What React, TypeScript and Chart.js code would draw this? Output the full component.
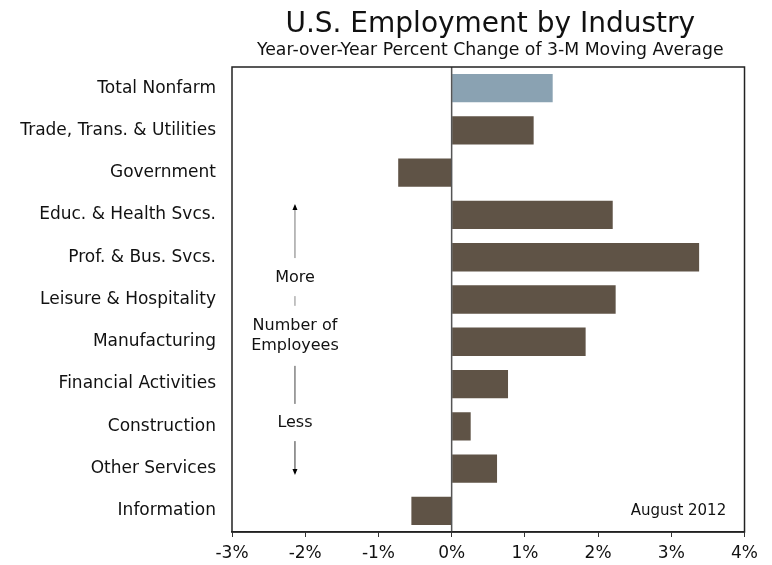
import React, { useEffect, useRef } from "react";
import { Chart, registerables } from "chart.js";

Chart.register(...registerables);

const categories = [
  "Total Nonfarm",
  "Trade, Trans. & Utilities",
  "Government",
  "Educ. & Health Svcs.",
  "Prof. & Bus. Svcs.",
  "Leisure & Hospitality",
  "Manufacturing",
  "Financial Activities",
  "Construction",
  "Other Services",
  "Information",
];
const values = [1.38, 1.12, -0.73, 2.2, 3.38, 2.24, 1.83, 0.77, 0.26, 0.62, -0.55];
const highlightColor = "#8aa2b2";
const barColor = "#5f5346";
const xMin = -3;
const xMax = 4;
const titleText = "U.S. Employment by Industry";
const subtitleText = "Year-over-Year Percent Change of 3-M Moving Average";
const dateText = "August 2012";

const FONT = "'DejaVu Sans', Verdana, sans-serif";

const decorPlugin = {
  id: "decor",
  afterDatasetsDraw(chart: any) {
    const { ctx, chartArea: ca, scales } = chart;
    const x = scales.x;
    const y = scales.y;
    ctx.save();
    // zero line
    const x0 = x.getPixelForValue(0);
    ctx.strokeStyle = "#555";
    ctx.lineWidth = 1.5;
    ctx.beginPath();
    ctx.moveTo(x0, ca.top);
    ctx.lineTo(x0, ca.bottom);
    ctx.stroke();
    // box
    ctx.strokeStyle = "#222";
    ctx.lineWidth = 1.5;
    ctx.strokeRect(ca.left, ca.top, ca.right - ca.left, ca.bottom - ca.top);

    // title
    const cx = (ca.left + ca.right) / 2 + 2;
    ctx.fillStyle = "#111";
    ctx.textAlign = "center";
    ctx.textBaseline = "alphabetic";
    ctx.font = `28px ${FONT}`;
    ctx.fillText(titleText, cx, 24);
    ctx.font = `17.3px ${FONT}`;
    ctx.fillText(subtitleText, cx, 46.5);

    // side note
    const ax = x.getPixelForValue(-2.14);
    ctx.font = `16px ${FONT}`;
    ctx.textBaseline = "middle";
    ctx.fillText("More", ax, y.getPixelForValue(4.49));
    ctx.fillText("Number of", ax, y.getPixelForValue(5.63));
    ctx.fillText("Employees", ax, y.getPixelForValue(6.1));
    ctx.fillText("Less", ax, y.getPixelForValue(7.92));

    const seg = (a: number, b: number, color: string) => {
      ctx.strokeStyle = color;
      ctx.lineWidth = 1;
      ctx.beginPath();
      ctx.moveTo(ax, y.getPixelForValue(a));
      ctx.lineTo(ax, y.getPixelForValue(b));
      ctx.stroke();
    };
    seg(2.78, 4.02, "#777");
    seg(4.92, 5.15, "#888");
    seg(6.57, 7.47, "#444");
    seg(8.35, 9.1, "#333");
    // arrow heads
    ctx.fillStyle = "#000";
    const upY = y.getPixelForValue(2.74);
    ctx.beginPath();
    ctx.moveTo(ax, upY);
    ctx.lineTo(ax - 2.5, upY + 6);
    ctx.lineTo(ax + 2.5, upY + 6);
    ctx.closePath();
    ctx.fill();
    const dnY = y.getPixelForValue(9.15);
    ctx.beginPath();
    ctx.moveTo(ax, dnY);
    ctx.lineTo(ax - 2.5, dnY - 6);
    ctx.lineTo(ax + 2.5, dnY - 6);
    ctx.closePath();
    ctx.fill();

    // date label
    ctx.textAlign = "right";
    ctx.fillStyle = "#111";
    ctx.font = `15px ${FONT}`;
    ctx.fillText(dateText, x.getPixelForValue(3.75), y.getPixelForValue(10));
    ctx.restore();
  },
};

export default function App() {
  const ref = useRef<HTMLCanvasElement | null>(null);
  useEffect(() => {
    if (!ref.current) return;
    document.body.style.overflow = "hidden";
    Chart.defaults.font.family = FONT;
    const chart = new Chart(ref.current, {
      type: "bar",
      data: {
        labels: categories,
        datasets: [
          {
            data: values,
            backgroundColor: values.map((_, i) => (i === 0 ? highlightColor : barColor)),
            borderWidth: 0,
            barPercentage: 0.67,
            categoryPercentage: 1,
          },
        ],
      },
      options: {
        indexAxis: "y",
        animation: false,
        responsive: true,
        maintainAspectRatio: false,
        layout: { padding: { top: 59, right: 16, bottom: 0, left: 0 } },
        plugins: {
          legend: { display: false },
          title: { display: false },
          tooltip: { enabled: false },
        },
        scales: {
          x: {
            type: "linear",
            min: xMin,
            max: xMax,
            afterFit: (s: any) => {
              s.height = 33;
            },
            ticks: {
              stepSize: 1,
              padding: 6,
              color: "#111",
              font: { size: 17, family: FONT },
              callback: (v: any) => `${v}%`,
            },
            grid: {
              display: true,
              drawOnChartArea: false,
              drawTicks: true,
              tickLength: 5,
              color: "#333",
            },
            border: { display: true, color: "#222", width: 1.5 },
          },
          y: {
            afterFit: (s: any) => {
              s.width = 224;
            },
            ticks: {
              padding: 16,
              color: "#111",
              font: { size: 17, family: FONT },
            },
            grid: { display: false, drawTicks: false },
            border: { display: false },
          },
        },
      },
      plugins: [decorPlugin],
    });
    return () => chart.destroy();
  }, []);
  return (
    <div style={{ width: 756, height: 557, position: "relative" }}>
      <canvas ref={ref} />
    </div>
  );
}
